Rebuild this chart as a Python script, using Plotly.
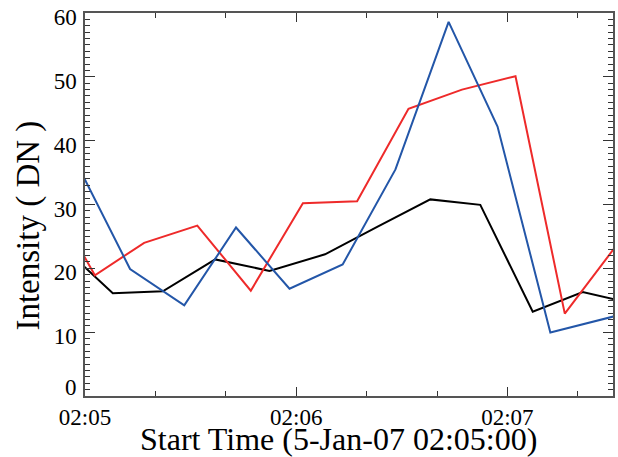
import pandas as pd
import plotly.graph_objects as go

start = pd.Timestamp("2007-01-05 02:05:00")

# seconds after 02:05:00 and intensities (DN)
black_t = [-6.9, 7.9, 22.1, 37.0, 52.4, 68.2, 83.0, 98.1, 112.3, 127.2, 141.4, 156.2]
black_v = [23.7, 16.1, 16.4, 21.4, 19.6, 22.2, 26.5, 30.8, 29.95, 13.2, 16.3, 14.4]

red_t = [-12.2, 2.8, 16.8, 31.9, 47.1, 61.9, 77.3, 91.9, 107.1, 122.3, 136.3, 151.4]
red_v = [33.7, 18.9, 24.0, 26.7, 16.5, 30.2, 30.5, 45.0, 48.0, 50.1, 12.9, 23.9]

blue_t = [-2.3, 12.8, 28.2, 42.9, 58.1, 73.2, 88.2, 103.3, 117.2, 132.2, 150.5]
blue_v = [36.4, 19.9, 14.2, 26.4, 16.8, 20.6, 35.5, 58.6, 42.2, 9.95, 12.5]

x_ticks = ["2007-01-05 02:05:00", "2007-01-05 02:06:00", "2007-01-05 02:07:00"]
x_range = ["2007-01-05 02:05:00", "2007-01-05 02:07:30"]
y_ticks = [0, 10, 20, 30, 40, 50, 60]
x_title = "Start Time (5-Jan-07 02:05:00)"
y_title = "Intensity ( DN )"

def times(sec):
    return [start + pd.Timedelta(seconds=s) for s in sec]

FONT = "Liberation Serif, Times New Roman, serif"

fig = go.Figure()
for t, v, c in [(black_t, black_v, "#000000"), (red_t, red_v, "#ee2a2a"), (blue_t, blue_v, "#2356a8")]:
    fig.add_trace(go.Scatter(x=times(t), y=v, mode="lines",
                             line=dict(color=c, width=2), showlegend=False,
                             hoverinfo="skip"))

axis_common = dict(showline=True, linecolor="#555555", linewidth=1.5, mirror="ticks",
                   ticks="inside", tickcolor="#333333", tickwidth=1, showgrid=False,
                   zeroline=False, automargin=False, ticklabeloverflow="allow",
                   tickfont=dict(family=FONT, size=23, color="#000000"))

fig.update_xaxes(type="date", range=x_range, tickvals=x_ticks, tickformat="%H:%M",
                 ticklen=9, ticklabelstandoff=0,
                 minor=dict(dtick=20000, tick0=x_range[0], ticks="inside", ticklen=5,
                            tickcolor="#333333", showgrid=False),
                 **axis_common)

fig.update_yaxes(range=[0, 60], tickvals=y_ticks[1:], ticklen=10,
                 ticklabelstandoff=2, ticklabelshift=4,
                 minor=dict(dtick=1, ticks="inside", ticklen=5, tickcolor="#333333",
                            showgrid=False),
                 **axis_common)

# bottom y label is raised in the original to clear the time labels
fig.add_annotation(x=0, xref="paper", y=y_ticks[0], yref="y", text=str(y_ticks[0]),
                   showarrow=False, xanchor="right", yanchor="middle", xshift=-6, yshift=9,
                   font=dict(family=FONT, size=23, color="#000000"))

fig.add_annotation(x=0.5, xref="paper", y=0, yref="paper", text=x_title,
                   showarrow=False, xanchor="center", yanchor="middle", yshift=-43, xshift=-11,
                   font=dict(family=FONT, size=32, color="#000000"))
fig.add_annotation(x=0, xref="paper", y=0.445, yref="paper", text=y_title, textangle=-90,
                   showarrow=False, xanchor="center", yanchor="middle", xshift=-56,
                   font=dict(family=FONT, size=33, color="#000000"))

fig.update_layout(width=618, height=457, margin=dict(l=85, r=5, t=13, b=61),
                  paper_bgcolor="white", plot_bgcolor="white",
                  font=dict(family=FONT, color="#000000"))

fig.write_html("out.html", config={"displayModeBar": False},
               post_script="document.body.style.margin='0';")
